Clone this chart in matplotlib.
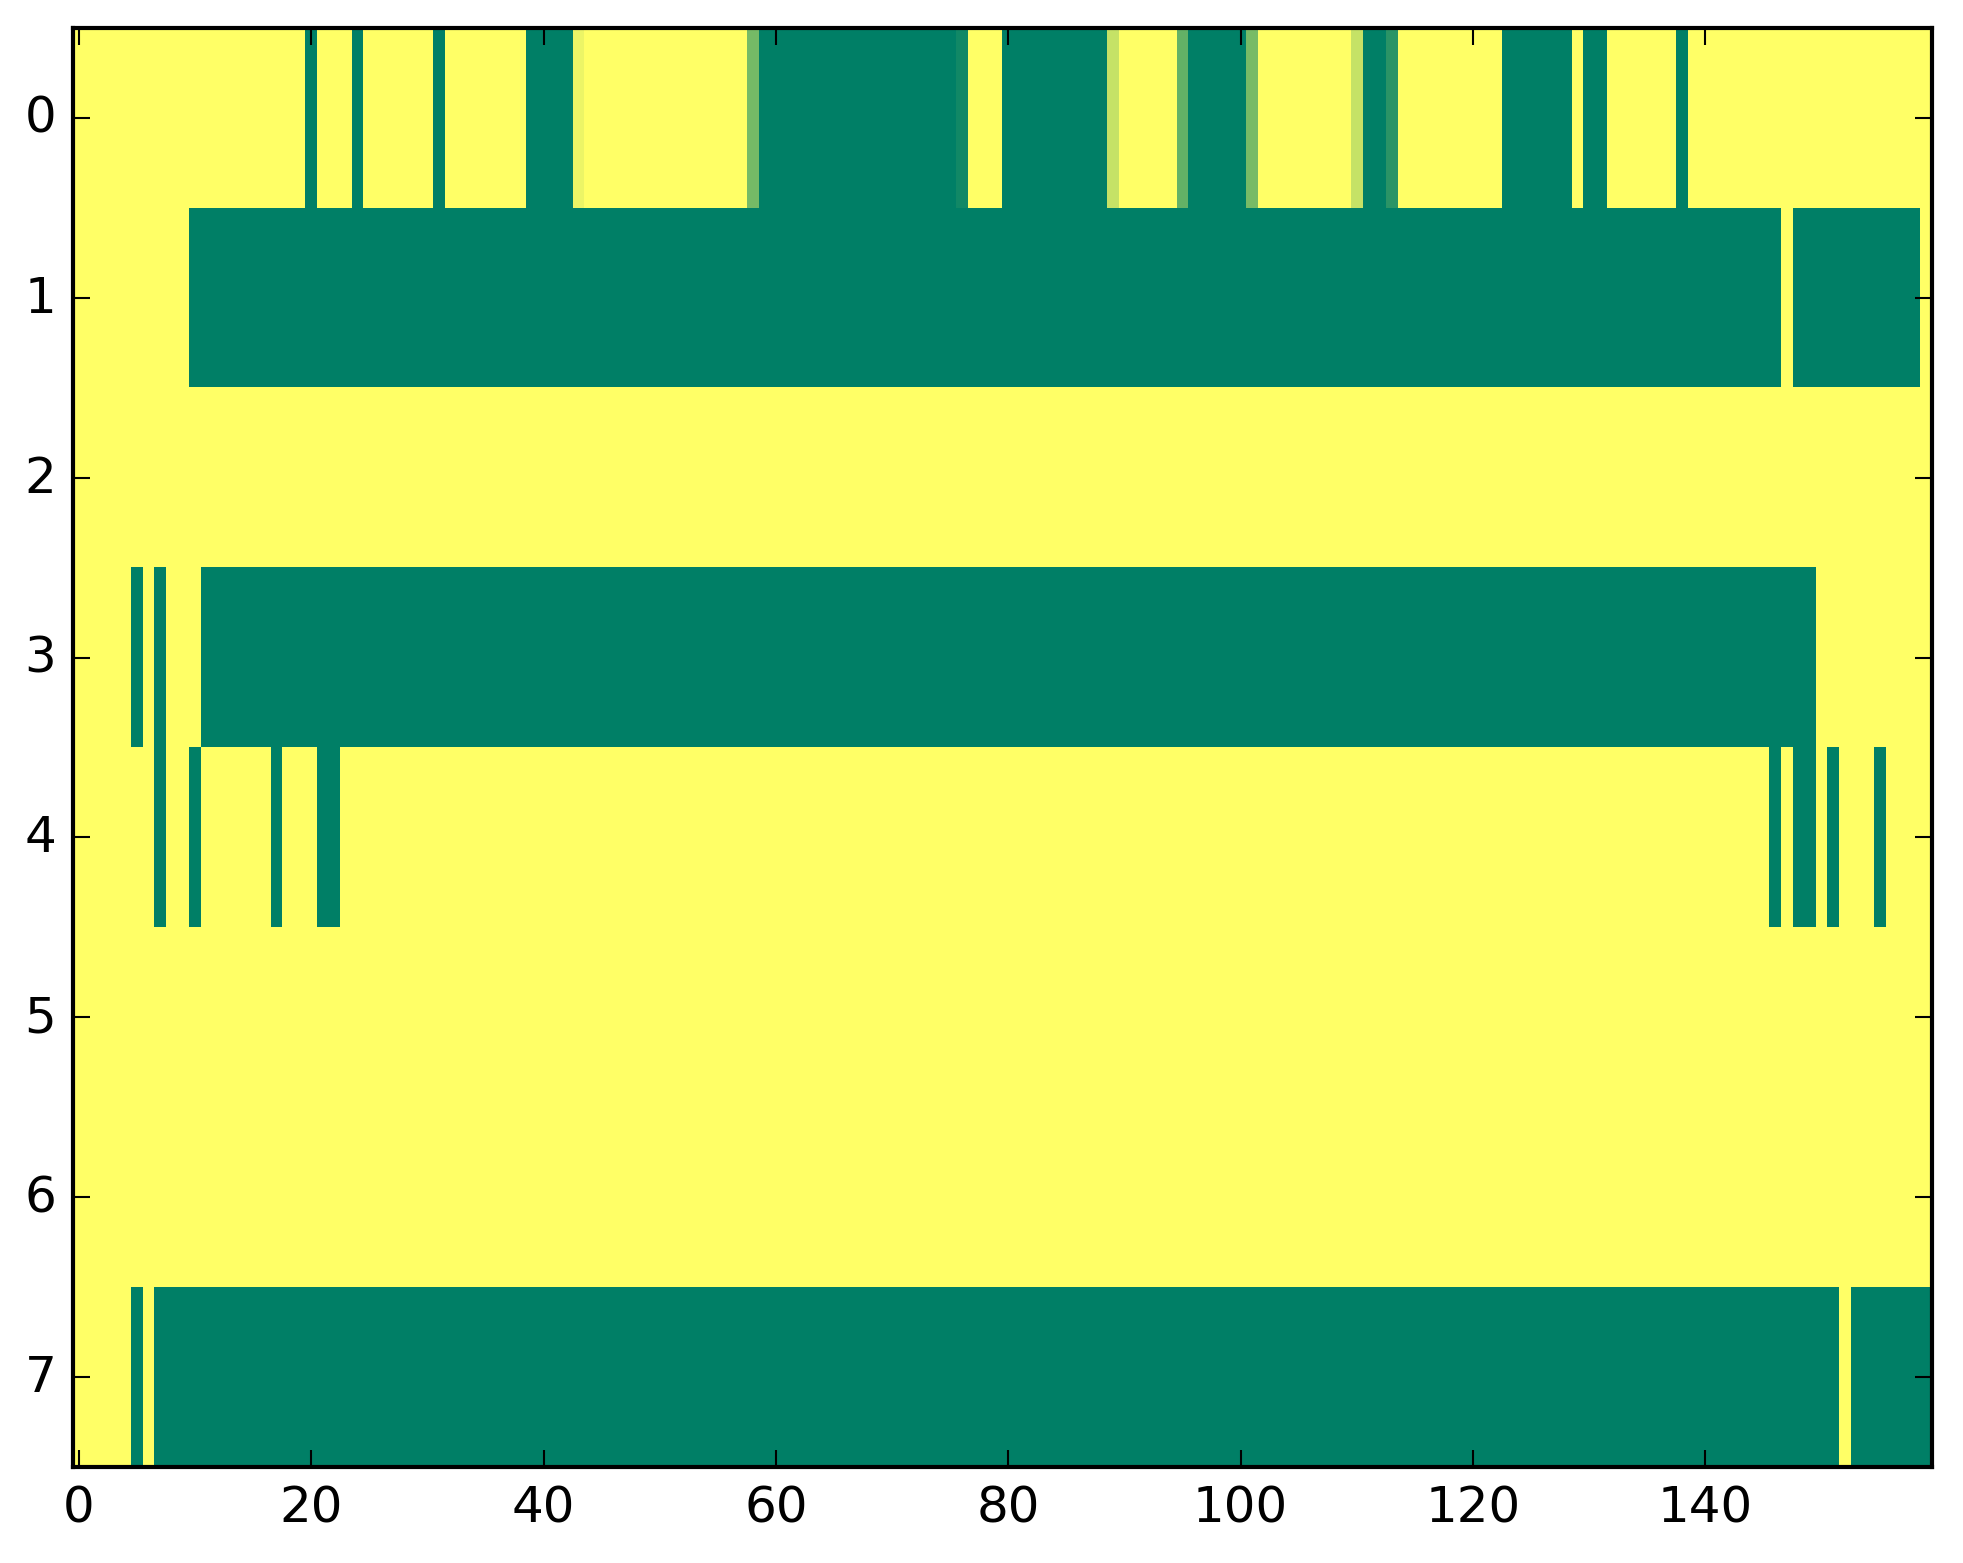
import numpy as np
import matplotlib
matplotlib.use("Agg")
import matplotlib.pyplot as plt

plt.style.use("classic")

n_cols = 160
n_rows = 8

# Value 1 = yellow (high), 0 = green (low); listed are the low / partial cells per row
# (start, end inclusive, value)
row0_runs = [(20, 20, 0.0), (24, 24, 0.0), (31, 31, 0.0), (39, 42, 0.0), (43, 43, 0.925),
             (58, 58, 0.46), (59, 75, 0.0), (76, 76, 0.067), (80, 88, 0.0), (89, 89, 0.77),
             (95, 95, 0.39), (96, 100, 0.0), (101, 101, 0.47), (110, 110, 0.77),
             (111, 112, 0.0), (113, 113, 0.165), (123, 128, 0.0), (130, 131, 0.0),
             (138, 138, 0.0)]
row1_runs = [(10, 146, 0.0), (148, 158, 0.0)]
row2_runs = []
row3_runs = [(5, 5, 0.0), (7, 7, 0.0), (11, 149, 0.0)]
row4_runs = [(7, 7, 0.0), (10, 10, 0.0), (17, 17, 0.0), (21, 22, 0.0), (146, 146, 0.0),
             (148, 149, 0.0), (151, 151, 0.0), (155, 155, 0.0)]
row5_runs = []
row6_runs = []
row7_runs = [(5, 5, 0.0), (7, 151, 0.0), (153, 159, 0.0)]

all_runs = [row0_runs, row1_runs, row2_runs, row3_runs,
            row4_runs, row5_runs, row6_runs, row7_runs]

data = np.ones((n_rows, n_cols))
for r, runs in enumerate(all_runs):
    for s, e, v in runs:
        data[r, s:e + 1] = v

W, H = 1963, 1564
dpi = 300
fig = plt.figure(figsize=(W / dpi, H / dpi), dpi=dpi, facecolor="white")
ax = fig.add_axes([73 / W, 1 - 1468 / H, (1932 - 73) / W, (1468 - 29) / H])
ax.imshow(data, cmap="summer", vmin=0, vmax=1, aspect="auto",
          interpolation="nearest")
ax.set_xticks([0, 20, 40, 60, 80, 100, 120, 140])
ax.set_yticks(range(8))
ax.set_xlim(-0.5, n_cols - 0.5)
ax.set_ylim(n_rows - 0.5, -0.5)

fig.savefig("out.png", dpi=dpi, facecolor="white")
